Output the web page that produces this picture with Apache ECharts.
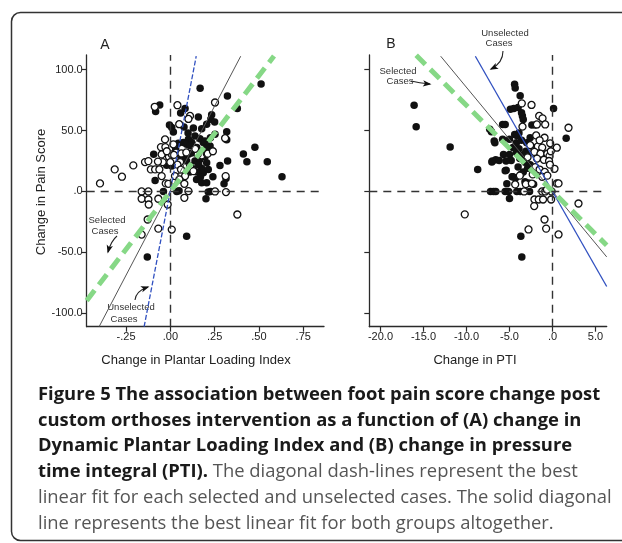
<!DOCTYPE html>
<html><head><meta charset="utf-8">
<script src="https://cdn.jsdelivr.net/npm/echarts@6/dist/echarts.min.js"></script>
<style>html,body{margin:0;padding:0;background:#fff}#c{width:622px;height:543px}</style>
</head><body><div id="c"></div>
<script>
// ---------- DATA ----------
const yTicks = [-100, -50, 0, 50, 100];
const xTicksA = [-0.25, 0, 0.25, 0.5, 0.75];
const xTicksB = [-20, -15, -10, -5, 0, 5];

// Panel A: change in Plantar Loading Index vs change in pain score
const aSelected = [
[0.168,84.8],[0.512,88.1],[-0.060,71.0],[-0.083,65.6],[0.322,78.3],[0.083,68.1],[0.058,64.3],[0.378,68.0],
[0.158,61.2],[0.233,62.9],[0.228,59.3],[-0.005,54.6],[0.008,52.4],[0.017,48.8],[0.077,53.0],[0.205,55.2],
[0.177,51.5],[0.250,57.0],[0.318,49.1],[0.318,42.5],[0.252,47.0],[0.226,44.1],[0.139,45.6],[0.102,42.8],
[0.073,40.1],[0.092,38.7],[0.120,40.1],[0.149,36.0],[0.186,40.1],[0.167,43.3],[0.195,41.4],[0.224,37.3],
[0.205,35.9],[0.045,39.5],[0.111,37.8],[0.412,30.7],[0.477,36.2],[0.432,24.4],[0.547,24.4],[0.630,12.1],
[-0.094,30.6],[-0.021,21.6],[0.008,20.8],[0.085,28.5],[0.092,24.9],[0.139,24.9],[0.167,26.3],[0.195,28.5],
[0.205,23.6],[0.177,18.9],[0.130,18.6],[0.148,15.9],[0.186,15.3],[0.214,18.1],[0.148,9.9],[0.177,7.1],
[0.205,7.1],[0.280,21.4],[0.323,24.9],[0.303,6.3],[0.314,10.7],[-0.086,9.0],[-0.039,0.0],[0.036,0.0],
[0.049,0.5],[0.214,-0.5],[0.227,0.0],[0.201,-6.0],[0.092,-36.8],[-0.130,-53.7],[0.102,30.5],[0.120,31.5],
[0.160,33.0],[0.180,30.0],[0.060,28.0],[0.030,35.0],[0.130,52.0],[0.100,48.0],[0.160,22.0],[0.240,12.0],
[0.170,12.0],[0.110,16.0]
];
const aUnselected = [
[-0.397,6.6],[-0.314,18.1],[-0.273,12.1],[-0.209,21.4],[-0.143,24.1],[-0.124,24.9],[-0.110,18.1],[-0.086,18.1],
[-0.062,18.1],[-0.049,12.6],[-0.026,6.6],[-0.088,69.5],[0.040,70.8],[0.111,62.0],[0.102,59.5],[0.252,73.0],
[0.050,55.2],[-0.030,42.7],[-0.053,36.4],[-0.028,36.4],[0.017,38.7],[-0.049,30.4],[-0.043,24.1],[-0.008,28.5],
[0.008,30.4],[0.032,31.8],[0.055,24.1],[0.062,31.2],[0.111,20.8],[0.026,12.6],[0.064,13.2],[0.083,12.6],
[0.051,9.9],[0.102,0.3],[0.079,6.3],[0.177,29.6],[0.205,31.2],[0.309,43.7],[0.312,12.6],[0.314,-0.5],
[0.252,0.0],[-0.162,0.0],[-0.124,0.0],[-0.162,-6.0],[-0.124,-6.6],[-0.122,-10.7],[-0.068,-6.0],[-0.015,-10.7],
[-0.128,-23.0],[-0.068,-30.5],[0.008,-31.3],[-0.162,-35.4],[0.079,-5.2],[0.378,-18.9],[0.154,30.4],[0.211,31.0],
[0.130,16.7],[-0.011,6.3],[-0.070,24.5],[0.000,24.0],[0.040,22.0],[0.060,18.0],[0.020,30.0],[-0.020,33.0],
[0.090,32.0],[0.240,33.0],[0.140,35.0]
];
const aFitSelected = [[-0.472,-89.6],[0.585,111.2]];
const aFitUnselected = [[-0.148,-111],[0.146,111]];
const aFitAll = [[-0.402,-111],[0.397,111]];

// Panel B: change in PTI vs change in pain score
const bSelected = [
[-16.09,70.7],[-15.85,53.2],[-11.9,36.4],[-8.70,18.1],[-7.2,0],[-6.85,0],[-6.6,0],[-5.5,0],[-5.1,0],[-4.15,0],
[-3.75,0],[-2.67,0],[-5.0,-5.8],[-3.68,-36.7],[-3.57,-53.7],[-7.05,24.1],[-7.3,51.0],[-7.1,49.0],[-6.78,41.4],
[-5.8,55.0],[-5.5,55.0],[-4.41,88.0],[-4.34,85.0],[-3.76,78.5],[0.12,68.0],[1.59,43.6],[-4.9,67.5],[-4.5,68.0],
[-4.0,69.0],[-3.6,64.5],[-3.5,62.0],[-3.4,59.0],[-2.4,54.6],[-2.0,54.6],[-5.8,42.8],[-5.0,42.8],[-6.7,40.0],
[-4.4,46.8],[-4.15,46.0],[-3.9,48.0],[-4.2,40.0],[-3.6,42.0],[-3.0,40.0],[-5.7,30.4],[-5.0,30.4],[-4.8,25.5],
[-5.4,25.0],[-4.2,32.0],[-3.5,30.0],[-3.1,33.0],[-2.8,31.0],[-3.8,27.0],[-5.39,17.5],[-4.6,12.0],[-5.31,6.3],
[-5.5,17.0],[-4.7,12.0],[-4.3,11.0],[-3.2,8.0],[-2.8,7.0],[-2.2,6.0],[-3.7,14.0],[-3.4,16.0],[-2.9,19.0],
[-2.6,22.0],[-7.0,25.0],[-6.6,26.0],[-6.2,25.5],[-4.0,20.0],[-3.2,24.0],[-2.2,36.0],[-2.6,44.0],[-1.8,28.0],
[-4.6,36.0],[-3.9,35.0]
];
const bUnselected = [
[-10.2,-18.8],[-3.57,72.3],[-2.44,71.0],[-1.55,62.0],[-1.16,60.0],[-0.85,55.0],[-1.82,55.0],[-3.49,53.2],
[1.86,52.3],[-0.93,44.1],[-0.27,39.5],[0.5,35.9],[-1.7,37.0],[-1.2,36.0],[-2.1,32.5],[-1.4,31.0],[-0.6,31.0],
[-0.35,29.0],[-1.8,27.0],[-1.0,26.0],[-0.4,25.0],[0.23,18.6],[0.5,6.6],[0.7,6.6],[3.02,-9.9],[-2.1,-6.6],
[-1.6,-6.6],[-1.1,-6.6],[-0.16,-6.6],[-2.13,-12.0],[-0.93,-23.0],[-2.79,-31.2],[-0.74,-30.5],[0.7,-35.3],
[-3.3,0],[-1.2,0],[-0.1,0],[-3.1,6.0],[-2.4,6.5],[-0.85,0],[-0.65,1.5],[-2.6,38.0],[-2.0,20.0],[-1.5,18.0],
[-0.9,16.0],[-0.3,22.0],[-2.3,14.0],[-1.2,12.0],[-0.6,13.0],[-4.34,5.8],[-3.8,13.0],[-1.9,46.0],[-0.2,33.0],
[-2.9,28.0],[-1.5,42.0]
];
const bFitSelected = [[-15.85,111.8],[6.3,-44.2]];
const bFitUnselected = [[-8.97,111],[6.3,-78.0]];
const bFitAll = [[-13.0,111],[6.3,-53.7]];

const captionLines = [
  '{b|Figure 5 The association between foot pain score change post}',
  '{b|custom orthoses intervention as a function of (A) change in}',
  '{b|Dynamic Plantar Loading Index and (B) change in pressure}',
  '{b|time integral (PTI).}{r| The diagonal dash-lines represent the best}',
  '{r|linear fit for each selected and unselected cases. The solid diagonal}',
  '{r|line represents the best linear fit for both groups altogether.}'
];

// ---------- CHART ----------
const chart = echarts.init(document.getElementById('c'), null, {renderer: 'canvas'});
const AX = '#2a2a2a';
const LBL = {fontFamily: 'Liberation Sans, Arial, sans-serif', fontSize: 11, color: '#222'};
function fmtY(v) { return v === 0 ? '.0' : v.toFixed(1); }
function fmtXA(v) { return v === 0 ? '.00' : v.toFixed(2).replace('0.', '.'); }
function fmtXB(v) { return v === 0 ? '.0' : v.toFixed(1); }

function xAxisDef(idx, min, max, ticks, fmt) {
  return {type: 'value', gridIndex: idx, min, max,
    axisLine: {show: true, onZero: false, lineStyle: {color: AX, width: 1.3}},
    axisTick: {show: true, length: 5, customValues: ticks, lineStyle: {color: AX, width: 1.2}},
    axisLabel: Object.assign({customValues: ticks, formatter: fmt, margin: 5}, LBL),
    splitLine: {show: false}};
}
function yAxisDef(idx, showLabels) {
  return {type: 'value', gridIndex: idx, min: -111, max: 112,
    axisLine: {show: true, onZero: false, lineStyle: {color: AX, width: 1.3}},
    axisTick: {show: true, length: 5, customValues: yTicks, lineStyle: {color: AX, width: 1.2}},
    axisLabel: Object.assign({show: showLabels, customValues: yTicks, formatter: fmtY, margin: 4}, LBL),
    splitLine: {show: false}};
}
function zeroLines(idx) {
  return {type: 'scatter', xAxisIndex: idx, yAxisIndex: idx, data: [], silent: true, z: 1,
    markLine: {silent: true, symbol: ['none', 'none'], label: {show: false}, animation: false,
      lineStyle: {type: [8, 6], color: '#333', width: 1.4},
      data: [{xAxis: 0}, {yAxis: 0}]}};
}
function pts(idx, data, filled) {
  return {type: 'scatter', xAxisIndex: idx, yAxisIndex: idx, data, symbol: 'circle', symbolSize: filled ? 7.5 : 7, z: 3,
    itemStyle: filled ? {color: '#111', opacity: 1} : {color: '#fff', borderColor: '#111', borderWidth: 1.3, opacity: 1}};
}
function fit(idx, data, color, width, type) {
  return {type: 'line', xAxisIndex: idx, yAxisIndex: idx, data, showSymbol: false, symbol: 'none', z: 4, silent: true,
    lineStyle: {color, width, type}};
}

const graphics = [];
function txt(x, y, text, size, opts) {
  graphics.push(Object.assign({type: 'text', x, y, silent: true,
    style: Object.assign({text, fontFamily: 'Liberation Sans, Arial, sans-serif', fontSize: size, fill: '#222',
      align: 'center', verticalAlign: 'middle'}, opts || {})}));
}
function arrow(x1, y1, cx, cy, x2, y2) {
  graphics.push({type: 'bezierCurve', silent: true, shape: {x1, y1, cpx1: cx, cpy1: cy, x2, y2},
    style: {stroke: '#222', lineWidth: 1.1, fill: 'none'}});
  const dx = x2 - cx, dy = y2 - cy, L = Math.hypot(dx, dy), ux = dx / L, uy = dy / L;
  const hl = 7, hw = 3.2;
  const bx = x2 - ux * hl, by = y2 - uy * hl;
  graphics.push({type: 'polygon', silent: true,
    shape: {points: [[x2 + ux * 1.5, y2 + uy * 1.5], [bx - uy * hw, by + ux * hw], [bx + ux * 2, by + uy * 2], [bx + uy * hw, by - ux * hw]]},
    style: {fill: '#111'}});
}

// frame
graphics.push({type: 'rect', silent: true, shape: {x: 11.5, y: 12.5, width: 640, height: 528, r: 9},
  style: {fill: 'none', stroke: '#333', lineWidth: 1.5}});
// panel letters
txt(105, 45, 'A', 14);
txt(391, 44, 'B', 14);
// axis titles
graphics.push({type: 'text', x: 41, y: 192, rotation: Math.PI / 2, silent: true,
  style: {text: 'Change in Pain Score', fontFamily: 'Liberation Sans, Arial, sans-serif', fontSize: 13, fill: '#222', align: 'center', verticalAlign: 'middle'}});
txt(196, 360, 'Change in Plantar Loading Index', 13);
txt(475, 360, 'Change in PTI', 13);
// annotations
txt(107, 220, 'Selected', 9.5, {fill: '#333'});
txt(105, 231, 'Cases', 9.5, {fill: '#333'});
txt(131, 307, 'Unselected', 9.5, {fill: '#333'});
txt(124, 319, 'Cases', 9.5, {fill: '#333'});
txt(505, 33, 'Unselected', 9.5, {fill: '#333'});
txt(499, 43, 'Cases', 9.5, {fill: '#333'});
txt(398, 71, 'Selected', 9.5, {fill: '#333'});
txt(400, 81, 'Cases', 9.5, {fill: '#333'});
arrow(117, 236, 111, 241, 108, 252);
arrow(135, 300, 136, 291, 148, 287);
arrow(503, 51, 503, 63, 491, 69);
arrow(411, 81, 419, 83, 430, 84);
// caption
captionLines.forEach((t, i) => {
  graphics.push({type: 'text', x: 38, y: 394.5 + i * 25.8, silent: true,
    style: {text: t, align: 'left', verticalAlign: 'middle',
      rich: {
        b: {fontFamily: 'Open Sans, sans-serif', fontSize: 18.4, fontWeight: 'bold', fill: '#1a1a1a'},
        r: {fontFamily: 'Open Sans, sans-serif', fontSize: 18.4, fill: '#555'}
      }}});
});

chart.setOption({
  animation: false,
  backgroundColor: '#fff',
  grid: [
    {left: 86.7, top: 55, width: 237.3, height: 271.7},
    {left: 369.3, top: 55, width: 237.4, height: 271.7}
  ],
  xAxis: [xAxisDef(0, -0.472, 0.867, xTicksA, fmtXA), xAxisDef(1, -21.3, 6.3, xTicksB, fmtXB)],
  yAxis: [yAxisDef(0, true), yAxisDef(1, false)],
  series: [
    zeroLines(0), zeroLines(1),
    pts(0, aSelected, true), pts(0, aUnselected, false),
    pts(1, bSelected, true), pts(1, bUnselected, false),
    fit(0, aFitAll, '#555', 1, 'solid'),
    fit(0, aFitUnselected, '#3050c0', 1.3, [5, 2]),
    fit(0, aFitSelected, '#86d886', 5, [13, 7]),
    fit(1, bFitAll, '#555', 1, 'solid'),
    fit(1, bFitUnselected, '#3050c0', 1.3, 'solid'),
    fit(1, bFitSelected, '#86d886', 5, [13, 7])
  ],
  graphic: graphics
});
</script></body></html>
